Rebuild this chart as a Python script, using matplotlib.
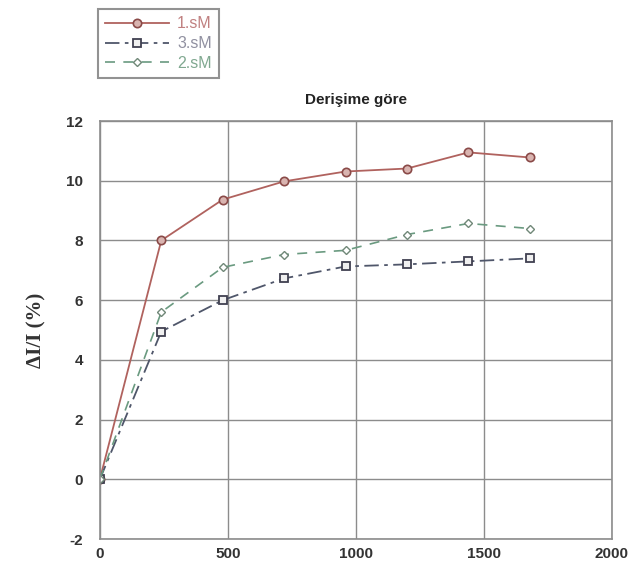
import numpy as np
import matplotlib
matplotlib.use('Agg')
import matplotlib.pyplot as plt

# 数据
derisim = [0, 240, 480, 720, 960, 1200, 1440, 1680]
seri_1sM = [0, 8.0, 9.37, 9.98, 10.31, 10.41, 10.95, 10.78]
seri_3sM = [0, 4.95, 6.0, 6.73, 7.13, 7.2, 7.3, 7.4]
seri_2sM = [0, 5.6, 7.1, 7.53, 7.67, 8.2, 8.57, 8.4]

etiketler = ['1.sM', '3.sM', '2.sM']
x_ticks = [0, 500, 1000, 1500, 2000]
y_ticks = [-2, 0, 2, 4, 6, 8, 10, 12]

plt.rcParams['font.family'] = ['Liberation Sans', 'DejaVu Sans']
plt.rcParams['axes.unicode_minus'] = False

fig = plt.figure(figsize=(6.4, 5.71), dpi=100)
ax = fig.add_axes([0.156, 0.056, 0.80, 0.732])

red = '#b0625e'
blue = '#4f566a'
green = '#6a9a80'

l1, = ax.plot(derisim, seri_1sM, color=red, lw=1.3, ls='-', marker='o', ms=6,
              mfc='#d9b4b0', mec='#8a4a48', mew=1.2, label=etiketler[0])
l2, = ax.plot(derisim, seri_3sM, color=blue, lw=1.3, ls=(0, (8, 3, 2, 3)), marker='s', ms=6,
              mfc='#f0f0f0', mec='#404050', mew=1.3, label=etiketler[1])
l3, = ax.plot(derisim, seri_2sM, color=green, lw=1.2, ls=(0, (6, 5)), marker='D', ms=4,
              mfc='white', mec='#708878', mew=1.0, label=etiketler[2])

ax.set_xlim(0, 2000)
ax.set_ylim(-2, 12)
ax.set_xticks(x_ticks)
ax.set_yticks(y_ticks)
ax.grid(True, color='#8c8c8c', lw=1.0)
for s in ax.spines.values():
    s.set_color('#8c8c8c')
    s.set_linewidth(1.2)
ax.tick_params(length=0, labelsize=11)
ax.tick_params(axis='x', pad=6)
ax.tick_params(axis='y', pad=12)
for lab in ax.get_xticklabels() + ax.get_yticklabels():
    lab.set_fontweight('bold')
    lab.set_color('#333333')

ax.set_title('Derişime göre', fontsize=11, fontweight='bold', pad=12, color='#222222')
ax.set_ylabel('ΔI/I (%)', fontsize=15, fontweight='bold', family='Liberation Serif',
              color='#333333', labelpad=14)

leg = fig.legend(handles=[l1, l2, l3], loc='upper left', bbox_to_anchor=(0.153, 0.984),
                 fontsize=11.5, frameon=True, fancybox=False, edgecolor='#777777',
                 handlelength=4.0, borderpad=0.45, labelspacing=0.3, handletextpad=0.5,
                 borderaxespad=0)
leg.get_frame().set_linewidth(1.5)
for txt, c in zip(leg.get_texts(), ['#c08080', '#9090a0', '#80a890']):
    txt.set_color(c)

fig.savefig('out.png', dpi=100)
